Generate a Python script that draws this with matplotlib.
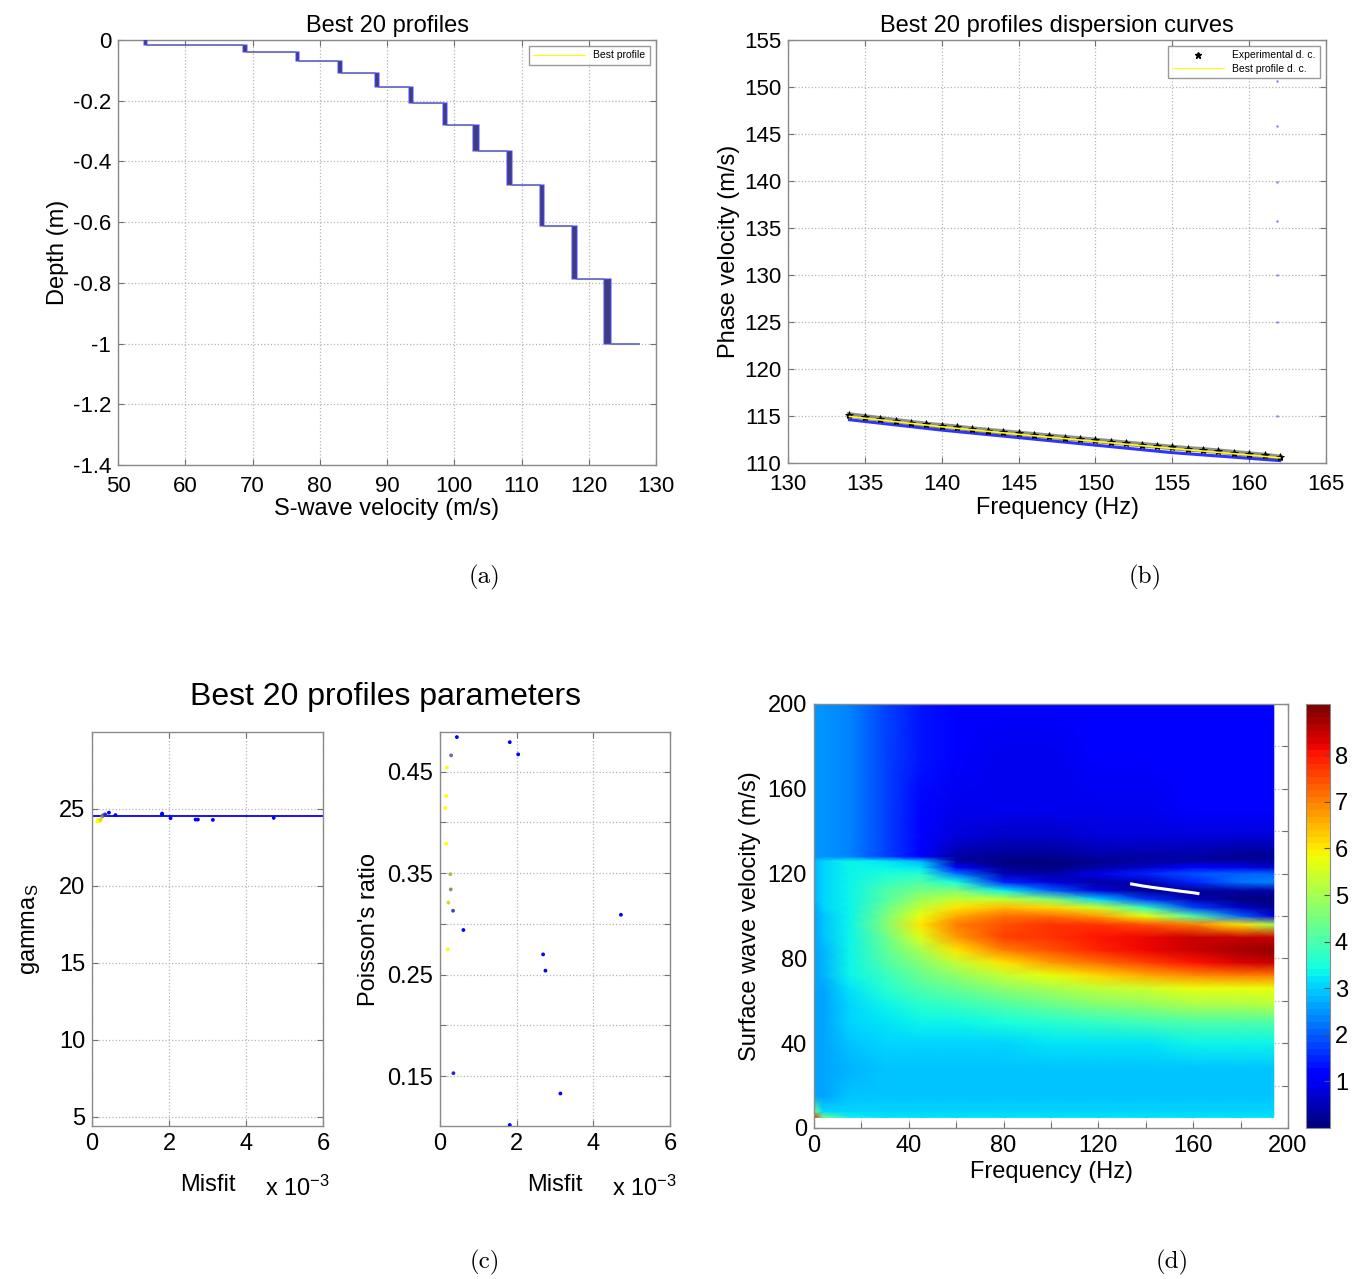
import matplotlib
matplotlib.use("Agg")
import matplotlib.pyplot as plt
from matplotlib.lines import Line2D
import numpy as np

plt.rcParams['font.family'] = ['Liberation Sans', 'DejaVu Sans']
plt.rcParams['mathtext.default'] = 'regular'

# (a) best 20 profiles: layer velocities (m/s) and layer bottoms (m)
layer_vs = [54.1, 68.9, 76.7, 83.0, 88.5, 93.6, 98.6, 103.3, 108.2, 113.0, 117.9, 122.8]
layer_bottom = [0.017, 0.041, 0.068, 0.108, 0.154, 0.206, 0.280, 0.366, 0.476, 0.614, 0.786, 1.000]
vs_spread = [0.45, 0.55, 0.5, 0.55, 0.65, 0.55, 0.6, 0.9, 0.75, 0.55, 0.65, 1.0]
halfspace_vs = 127.4

# (b) dispersion curves
exp_freq = [134, 135, 136, 137, 138, 139, 140, 141, 142, 143, 144, 145, 146, 147, 148,
            149, 150, 151, 152, 153, 154, 155, 156, 157, 158, 159, 160, 161, 162]
exp_vel = [115.1, 114.9, 114.7, 114.5, 114.3, 114.1, 113.95, 113.8, 113.6, 113.45,
           113.3, 113.15, 113.0, 112.85, 112.7, 112.55, 112.4, 112.25, 112.1, 111.95,
           111.8, 111.65, 111.5, 111.4, 111.25, 111.1, 110.95, 110.8, 110.6]
model_freq = [134, 140, 145, 150, 155, 160, 162]
best_vel = [114.95, 113.85, 113.05, 112.3, 111.55, 110.85, 110.55]
other_vel = [114.6, 113.5, 112.7, 111.9, 111.1, 110.5, 110.25]
mode_freq = [161.8, 161.8, 161.8, 161.8, 161.8, 161.8, 161.8]
mode_vel = [150.6, 145.8, 139.9, 135.7, 130.0, 125.0, 115.0]

# (c) parameters of the 20 profiles (sorted by misfit)
misfit = [0.14e-3, 0.16e-3, 0.16e-3, 0.18e-3, 0.20e-3, 0.22e-3, 0.27e-3, 0.28e-3, 0.29e-3, 0.34e-3,
          0.35e-3, 0.44e-3, 0.61e-3, 1.82e-3, 1.82e-3, 2.04e-3, 2.69e-3, 2.75e-3, 3.14e-3, 4.72e-3]
poisson = [0.414, 0.426, 0.379, 0.454, 0.275, 0.321, 0.349, 0.334, 0.466, 0.313,
           0.153, 0.484, 0.294, 0.479, 0.102, 0.467, 0.270, 0.254, 0.133, 0.309]
gamma_s = [24.2, 24.3, 24.2, 24.25, 24.2, 24.3, 24.5, 24.55, 24.6, 24.65,
           24.6, 24.76, 24.6, 24.65, 24.7, 24.4, 24.31, 24.31, 24.29, 24.42]
gamma_line = 24.55

# (d) misfit surface
surf_freq = [0, 4, 15, 30, 45, 60, 80, 100, 120, 140, 160, 180, 194]
surf_vel = [5, 8, 15, 28, 40, 50, 58, 66, 72, 78, 84, 90, 96, 100, 104, 108,
            112, 116, 120, 123, 126, 128, 131, 138, 150, 175, 200]
surf_val = [
    [8.0, 4.5, 3.3, 3.2, 3.2, 3.2, 3.2, 3.2, 3.2, 3.2, 3.2, 3.2, 3.2],
    [4.5, 3.1, 3.0, 3.0, 3.0, 3.0, 3.0, 3.0, 3.0, 3.0, 3.0, 3.0, 3.0],
    [2.7, 2.7, 2.85, 2.85, 2.85, 2.85, 2.85, 2.85, 2.85, 2.85, 2.85, 2.85, 2.85],
    [2.6, 2.6, 2.8, 2.85, 2.9, 2.9, 2.9, 2.9, 2.9, 2.9, 2.95, 2.95, 2.95],
    [2.6, 2.6, 2.9, 3.0, 3.05, 3.1, 3.1, 3.15, 3.2, 3.25, 3.3, 3.3, 3.3],
    [2.6, 2.6, 3.0, 3.2, 3.3, 3.4, 3.5, 3.6, 3.8, 3.9, 4.0, 4.1, 4.1],
    [2.6, 2.7, 3.1, 3.4, 3.6, 3.8, 4.1, 4.3, 4.6, 4.8, 5.0, 5.1, 5.2],
    [2.6, 2.7, 3.2, 3.6, 4.0, 4.3, 4.7, 5.0, 5.3, 5.5, 5.7, 5.8, 5.8],
    [2.6, 2.8, 3.3, 3.8, 4.3, 4.8, 5.3, 5.8, 6.2, 6.6, 6.9, 7.0, 7.0],
    [2.6, 2.8, 3.3, 4.0, 4.6, 5.3, 6.1, 6.7, 7.2, 7.6, 8.0, 8.3, 8.5],
    [2.6, 2.8, 3.4, 4.2, 5.0, 6.0, 7.0, 7.5, 7.9, 8.2, 8.5, 8.8, 8.9],
    [2.6, 2.9, 3.4, 4.4, 5.6, 6.8, 7.6, 7.8, 8.0, 8.2, 8.4, 8.5, 8.5],
    [2.6, 2.9, 3.4, 4.6, 6.0, 7.0, 7.5, 7.7, 7.7, 7.5, 7.0, 6.0, 5.0],
    [2.6, 2.9, 3.4, 4.5, 5.8, 6.6, 7.2, 7.2, 6.8, 5.8, 4.0, 2.0, 0.8],
    [2.7, 3.0, 3.4, 4.3, 5.4, 6.0, 6.4, 6.2, 5.5, 3.8, 1.8, 0.6, 0.2],
    [2.8, 3.0, 3.4, 4.1, 4.9, 5.4, 5.3, 4.6, 3.0, 1.6, 0.5, 0.1, 0.1],
    [2.8, 3.0, 3.4, 4.0, 4.5, 4.6, 3.3, 2.0, 0.8, 0.2, 0.2, 0.3, 0.4],
    [2.8, 3.0, 3.4, 3.8, 4.1, 3.5, 1.5, 0.8, 0.4, 0.5, 1.5, 2.2, 2.4],
    [2.8, 3.0, 3.3, 3.5, 3.6, 2.2, 0.5, 0.3, 0.9, 1.5, 1.9, 2.0, 2.0],
    [2.8, 3.0, 3.3, 3.3, 3.2, 1.0, 0.2, 0.1, 0.4, 0.7, 1.0, 0.9, 0.7],
    [2.8, 3.0, 3.3, 3.2, 2.8, 0.4, 0.1, 0.1, 0.2, 0.3, 0.3, 0.3, 0.3],
    [2.5, 2.5, 2.3, 1.8, 1.0, 0.3, 0.2, 0.2, 0.3, 0.4, 0.35, 0.25, 0.2],
    [2.5, 2.5, 2.3, 1.8, 1.1, 0.5, 0.35, 0.35, 0.45, 0.5, 0.5, 0.4, 0.3],
    [2.5, 2.5, 2.3, 1.8, 1.2, 0.8, 0.7, 0.7, 0.75, 0.8, 0.85, 0.85, 0.8],
    [2.5, 2.5, 2.3, 1.8, 1.25, 0.95, 0.9, 0.9, 0.9, 0.95, 1.0, 1.0, 1.0],
    [2.5, 2.5, 2.3, 1.8, 1.3, 1.05, 0.95, 0.95, 1.0, 1.05, 1.05, 1.05, 1.05],
    [2.5, 2.5, 2.3, 1.8, 1.3, 1.1, 1.05, 1.05, 1.05, 1.05, 1.05, 1.05, 1.05],
]

W, H = 1352, 1279
fig = plt.figure(figsize=(W / 100, H / 100), dpi=100)


def box(l, t, r, b):
    return [l / W, 1 - b / H, (r - l) / W, (b - t) / H]


def matlab_style(ax, fs):
    ax.tick_params(direction='in', top=True, right=True, length=4, width=0.8,
                   color='#707070', labelcolor='black', labelsize=fs, pad=5)
    for s in ax.spines.values():
        s.set_color('#8a8a8a')
        s.set_linewidth(1.0)
    ax.grid(True, linestyle=':', color='#b5b5b5', linewidth=0.9)


# ---------- (a) ----------
ax = fig.add_axes(box(118, 40, 656, 465))
matlab_style(ax, 16)
ax.tick_params(axis='x', pad=8)


def step_xy(vs, bottoms, hs):
    xs, ys = [], []
    top = 0.0
    for v, b in zip(vs, bottoms):
        xs += [v, v]
        ys += [-top, -b]
        top = b
    xs.append(hs)
    ys.append(-bottoms[-1])
    return xs, ys


lo = [v - s / 2 for v, s in zip(layer_vs, vs_spread)]
hi = [v + s / 2 for v, s in zip(layer_vs, vs_spread)]
bx, by = step_xy(layer_vs, layer_bottom, halfspace_vs)
ax.plot(bx, by, color='yellow', lw=1, zorder=2)
top = 0.0
for l, h, b in zip(lo, hi, layer_bottom):
    ax.fill_betweenx([-top, -b], l, h, color='#3d3d80', lw=0, zorder=3)
    top = b
for prof in (lo, hi):
    x, y = step_xy(prof, layer_bottom, halfspace_vs)
    ax.plot(x, y, color='#4a4aff', lw=1.2, alpha=0.6, zorder=4)
ax.set_xlim(50, 130)
ax.set_ylim(-1.4, 0)
ax.set_xticks(range(50, 131, 10))
ax.set_yticks([-1.4, -1.2, -1.0, -0.8, -0.6, -0.4, -0.2, 0])
ax.set_yticklabels(['-1.4', '-1.2', '-1', '-0.8', '-0.6', '-0.4', '-0.2', '0'])
ax.set_title('Best 20 profiles', fontsize=17)
ax.set_xlabel('S-wave velocity (m/s)', fontsize=17, labelpad=1)
ax.set_ylabel('Depth (m)', fontsize=17, labelpad=3)
leg = ax.legend([Line2D([], [], color='yellow', lw=0.8)], ['Best profile'], loc='upper right',
                fontsize=7.5, fancybox=False, edgecolor='#808080', handlelength=5,
                borderaxespad=0.6)
leg.get_frame().set_linewidth(1.0)

# ---------- (b) ----------
ax = fig.add_axes(box(788, 40, 1326, 463))
matlab_style(ax, 16)
ax.tick_params(axis='x', pad=8)
ax.plot(model_freq, other_vel, color='blue', lw=2.2, alpha=0.8, zorder=2)
ax.plot(exp_freq, exp_vel, color='#444444', lw=4, alpha=0.6, zorder=3)
ax.plot(exp_freq, exp_vel, 'k*', ms=6, mew=0.6, zorder=4)
ax.plot(model_freq, best_vel, color='yellow', lw=1.2, zorder=5)
ax.plot(mode_freq, mode_vel, '.', color='#8080ff', ms=1.5, zorder=2)
ax.set_xlim(130, 165)
ax.set_ylim(110, 155)
ax.set_xticks(range(130, 166, 5))
ax.set_yticks(range(110, 156, 5))
ax.set_title('Best 20 profiles dispersion curves', fontsize=17)
ax.set_xlabel('Frequency (Hz)', fontsize=17, labelpad=1)
ax.set_ylabel('Phase velocity (m/s)', fontsize=17, labelpad=3)
leg = ax.legend([Line2D([], [], color='k', marker='*', ls='none', ms=5),
                 Line2D([], [], color='yellow', lw=0.8)],
                ['Experimental d. c.', 'Best profile d. c.'], loc='upper right',
                fontsize=7.5, fancybox=False, edgecolor='#808080', handlelength=5,
                borderaxespad=0.6, labelspacing=0.35)
leg.get_frame().set_linewidth(1.0)

# ---------- (c) ----------
rank = np.arange(len(misfit))
frac = np.clip((rank - 4) / 7, 0, 1)
point_colors = [(1 - f, 1 - f, f) for f in frac]

axl = fig.add_axes(box(92, 732, 323, 1126))
matlab_style(axl, 17)
axl.axhline(gamma_line, color='blue', lw=1.3)
axl.scatter(misfit, gamma_s, s=3, c=point_colors, zorder=3)
axl.set_xlim(0, 6e-3)
axl.set_ylim(4.4, 30)
axl.set_yticks([5, 10, 15, 20, 25])
axl.set_ylabel('gamma$_S$', fontsize=17, labelpad=12)

axr = fig.add_axes(box(440, 732, 670, 1126))
matlab_style(axr, 17)
axr.scatter(misfit, poisson, s=3, c=point_colors, zorder=3)
axr.set_xlim(0, 6e-3)
axr.set_ylim(0.101, 0.489)
axr.set_yticks([0.15, 0.2, 0.25, 0.3, 0.35, 0.4, 0.45])
axr.set_yticklabels(['0.15', '', '0.25', '', '0.35', '', '0.45'])
axr.set_ylabel("Poisson's ratio", fontsize=17, labelpad=5)

for a in (axl, axr):
    a.set_xticks([0, 2e-3, 4e-3, 6e-3])
    a.set_xticklabels(['0', '2', '4', '6'])
    a.set_xlabel('Misfit', fontsize=17, labelpad=14)
    a.text(0.89, -0.157, 'x 10$^{-3}$', transform=a.transAxes, fontsize=17,
           ha='center', va='center')

fig.text(386 / W, 1 - 697 / H, 'Best 20 profiles parameters', fontsize=23,
         ha='center', va='center')

# ---------- (d) ----------
ax = fig.add_axes(box(814, 704, 1288, 1128))
matlab_style(ax, 17)
ax.set_axisbelow(True)
jet = plt.get_cmap('jet', 64)
mesh = ax.pcolormesh(surf_freq, surf_vel, np.array(surf_val), shading='gouraud',
                     cmap=jet, vmin=0, vmax=9.1)
ax.plot(exp_freq, exp_vel, color='white', lw=2.2)
ax.set_xlim(0, 200)
ax.set_ylim(0, 200)
ax.set_xticks(range(0, 201, 20))
ax.set_xticklabels([str(t) if t % 40 == 0 else '' for t in range(0, 201, 20)])
ax.set_yticks(range(0, 201, 20))
ax.set_yticklabels([str(t) if t % 40 == 0 else '' for t in range(0, 201, 20)])
ax.set_xlabel('Frequency (Hz)', fontsize=17, labelpad=3)
ax.set_ylabel('Surface wave velocity (m/s)', fontsize=17, labelpad=5)

cax = fig.add_axes(box(1306, 704, 1330, 1128))
cb = fig.colorbar(mesh, cax=cax, ticks=range(1, 9))
cb.ax.tick_params(labelsize=17, direction='in', length=4, color='#505050')
cb.outline.set_edgecolor('#8a8a8a')

# captions
for lbl, x, y in [('(a)', 485, 577), ('(b)', 1145, 577), ('(c)', 485, 1262), ('(d)', 1172, 1262)]:
    fig.text(x / W, 1 - y / H, lbl, fontsize=18, family='cmr10', ha='center', va='center')

fig.savefig('out.png', dpi=100)
